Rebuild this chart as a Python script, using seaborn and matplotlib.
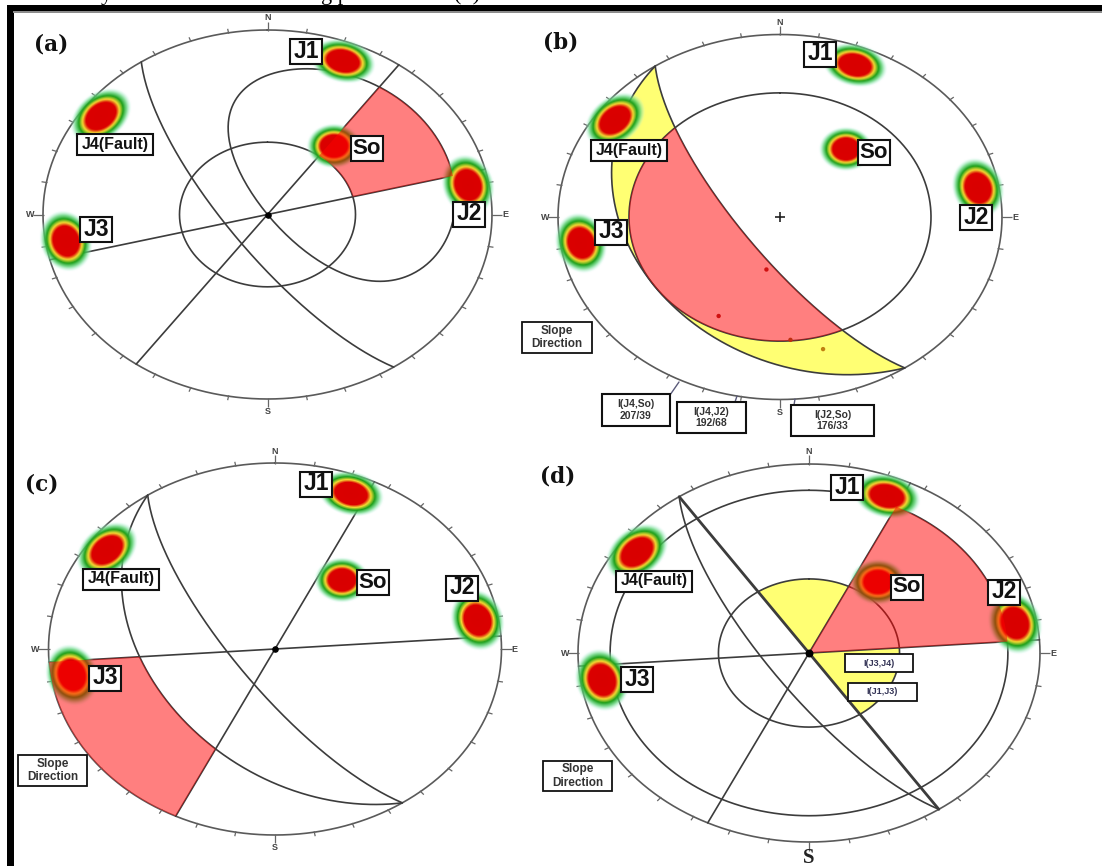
import numpy as np
import matplotlib
matplotlib.use("Agg")
import matplotlib.pyplot as plt
from matplotlib.collections import LineCollection
from matplotlib.patches import Rectangle
import seaborn as sns

# ---- measured data (stereonet values) ----
set_names = ["J1", "J2", "J3", "J4(Fault)", "So"]
set_trend = [22.0, 80.0, 261.0, 305.6, 38.5]
set_plunge = [11.3, 10.4, 10.0, 9.5, 50.6]
set_long = [0.135, 0.150, 0.150, 0.150, 0.110]
set_short = [0.105, 0.105, 0.105, 0.105, 0.110]

slope_dipdir = 235.8
slope_dip = 75.0
b_friction_plunge = 32.5
c_outer_dip = 44.0
cone_small = 0.392
cone_large = 0.861
limit_a = [35.8, 75.8]
limit_c = [206.0, 266.0]
limit_d = [26.0, 86.0]

inter_trend = [207, 192, 176, 165]
inter_plunge = [39, 66, 33, 26]
inter_names = ["I(J4,So)\n207/39", "I(J4,J2)\n192/68", "I(J2,So)\n176/33"]
d_inter_names = ["I(J3,J4)", "I(J1,J3)"]

# ---- layout (pixels) ----
panel_geom = {"a": (267.5, 214.5, 224.5, 184.5), "b": (780, 217, 222, 182.5),
              "c": (275, 649, 226.5, 186), "d": (809, 653, 231, 189)}
panel_tag = {"a": (51, 44), "b": (561, 43), "c": (42, 485), "d": (558, 476)}
label_pos = {
    "a": [(306, 51), (469, 214), (96, 229), (115, 144), (367, 148)],
    "b": [(820, 54), (976, 217), (611, 232), (629, 150), (874, 152)],
    "c": [(316, 484), (462, 588), (105, 678), (121, 579), (373, 582)],
    "d": [(847, 487), (1004, 592), (637, 679), (654, 581), (907, 587)],
}
slope_boxes = [(522, 322, 70, 31), (18, 755, 69, 31), (543, 761, 69, 30)]
inter_boxes = [(602, 394, 68, 32), (677, 402, 69, 31), (791, 405, 83, 31)]
inter_leads = [((670, 395), (679, 382)), ((735, 402), (737, 396)), ((794, 405), (795, 399))]
d_boxes = [(845, 654, 68, 18), (848, 683, 69, 18)]

sns.set_style("white")
fig = plt.figure(figsize=(11.02, 8.66), dpi=100)
ax = fig.add_axes([0, 0, 1, 1])
ax.axis("off")

LINE = "#3c3c3c"
AZ = np.linspace(0, 360, 721)


def ea(plunge):
    return np.sqrt(2) * np.sin(np.radians(90 - np.asarray(plunge, float)) / 2)


def to_px(p, az, r):
    cx, cy, rx, ry = panel_geom[p]
    a = np.radians(az)
    return cx + rx * r * np.sin(a), cy - ry * r * np.cos(a)


def gc_r(az, dip):
    diff = np.radians(np.asarray(az, float) - slope_dipdir)
    return ea(np.degrees(np.arctan(np.tan(np.radians(dip)) * np.cos(diff))))


def env_r(az, dip):
    diff = np.radians(np.asarray(az, float) + 180 - slope_dipdir)
    pl = np.arctan(np.tan(np.radians(dip)) * np.cos(diff))
    return np.sqrt(2) * np.sin(pl / 2)


def curve(x, y, lw=1.2, color=LINE, z=1):
    sns.lineplot(x=x, y=y, sort=False, estimator=None, errorbar=None, color=color,
                 lw=lw, ax=ax, legend=False, zorder=z)


def circle(p, r, lw=1.2):
    x, y = to_px(p, AZ, np.full_like(AZ, r))
    curve(x, y, lw)


def straight(p, az, lw=1.2):
    x0, y0 = to_px(p, az, 1.0)
    x1, y1 = to_px(p, az + 180, 1.0)
    curve(np.array([x0, x1]), np.array([y0, y1]), lw)


def great_circle(p, dip):
    az = np.linspace(slope_dipdir - 90, slope_dipdir + 90, 361)
    x, y = to_px(p, az, gc_r(az, dip))
    curve(x, y)


def envelope(p, dip):
    az = np.linspace(slope_dipdir - 180 - 90, slope_dipdir - 180 + 90, 361)
    x, y = to_px(p, az, env_r(az, dip))
    curve(x, y)


def band(p, az, r_in, r_out, color, z=3):
    x0, y0 = to_px(p, az, r_in)
    x1, y1 = to_px(p, az[::-1], r_out[::-1])
    ax.fill(np.r_[x0, x1], np.r_[y0, y1], color=color, alpha=0.55 if z < 1 else 0.5, lw=0, zorder=z)


STOPS = np.array([0, .55, .68, .82, .95, 1.13])
COLS = np.array([(.85, 0, 0, 1), (.86, 0, 0, 1), (.96, .86, .2, 1), (.1, .62, .1, 1),
                 (.35, .82, .45, .75), (.75, .97, .92, 0)])


def clusters(p):
    cx, cy, rx, ry = panel_geom[p]
    for tr, pl, a, b in zip(set_trend, set_plunge, set_long, set_short):
        px, py = to_px(p, tr, ea(pl))
        s = 45
        xs = np.arange(px - s, px + s, 1.0)
        ys = np.arange(py - s, py + s, 1.0)
        X, Y = np.meshgrid(xs, ys)
        u, v = (X - px) / rx, -(Y - py) / ry
        rad = np.radians(tr)
        t = u * np.cos(rad) - v * np.sin(rad)
        n = u * np.sin(rad) + v * np.cos(rad)
        d = np.sqrt((t / a) ** 2 + (n / b) ** 2)
        img = np.dstack([np.interp(d, STOPS, COLS[:, i]) for i in range(4)])
        ax.imshow(img, extent=(xs[0], xs[-1], ys[-1], ys[0]), origin="upper",
                  aspect="auto", interpolation="bilinear", zorder=2)


def rim(p):
    cx, cy, rx, ry = panel_geom[p]
    x, y = to_px(p, AZ, np.ones_like(AZ))
    curve(x, y, 1.2, "#5a5a5a")
    segs = []
    for az in range(0, 360, 10):
        x0, y0 = to_px(p, az, 0.995)
        ext = 1.045 if az % 90 == 0 else 1.022
        x1, y1 = to_px(p, az, ext)
        segs.append([(x0, y0), (x1, y1)])
    ax.add_collection(LineCollection(segs, colors="#666666", lw=0.9, zorder=1))
    for txt, dx, dy in [("N", 0, -ry - 12), ("E", rx + 13, 0), ("W", -rx - 13, 0)]:
        ax.text(cx + dx, cy + dy, txt, fontsize=6.5, fontweight="bold", color="#444444",
                ha="center", va="center", family="Liberation Sans", zorder=6)
    if p == "d":
        ax.text(cx, cy + ry + 16, "S", fontsize=15, fontweight="bold", color="#222222",
                ha="center", va="center", family="Liberation Serif", zorder=6)
    else:
        ax.text(cx, cy + ry + 13, "S", fontsize=6.5, fontweight="bold", color="#444444",
                ha="center", va="center", family="Liberation Sans", zorder=6)


def boxed(cx, cy, w, h, txt, fs, weight="bold", color="#111111", lw=1.5):
    ax.add_patch(Rectangle((cx - w / 2, cy - h / 2), w, h, fc="white", ec="#111111", lw=lw, zorder=5))
    ax.text(cx, cy, txt, fontsize=fs, fontweight=weight, color=color, ha="center", va="center",
            family="Liberation Sans", zorder=6, linespacing=1.15)


def set_labels(p):
    for name, (x, y) in zip(set_names, label_pos[p]):
        if name.startswith("J4"):
            boxed(x, y, 76, 21, name, 11.5)
        elif name == "So":
            boxed(x, y, 32, 25, name, 16)
        else:
            boxed(x, y, 32, 25, name, 16.5)


# ---- panel a ----
rim("a")
circle("a", cone_small)
for az in limit_a:
    straight("a", az)
great_circle("a", slope_dip)
envelope("a", slope_dip)
clusters("a")
az = np.linspace(limit_a[0], limit_a[1], 80)
band("a", az, np.full_like(az, cone_small), env_r(az, slope_dip), "#ff0000")
x, y = to_px("a", 0, 0.0)
ax.scatter([x], [y], s=14, color="black", zorder=4)

# ---- panel b ----
rim("b")
fr = float(ea(b_friction_plunge))
circle("b", fr)
great_circle("b", slope_dip)
great_circle("b", b_friction_plunge)
clusters("b")
az = np.linspace(slope_dipdir - 90, slope_dipdir + 90, 361)
inner = gc_r(az, slope_dip)
outer = gc_r(az, b_friction_plunge)
keep = inner < fr
band("b", az[keep], inner[keep], np.full(keep.sum(), fr), "#ff0000")
band("b", az, np.maximum(inner, fr), np.maximum(outer, np.maximum(inner, fr)), "#ffff00", z=0.5)
x, y = to_px("b", 0, 0.0)
ax.scatter([x], [y], s=45, marker="+", color="#222222", lw=1.2, zorder=4)
x, y = to_px("b", np.array(inter_trend, float), ea(inter_plunge))
ax.scatter(x, y, s=10, color=["#d01010", "#d01010", "#c03010", "#c08010"], zorder=4, lw=0)
for (bx, by, w, h), txt in zip(inter_boxes, inter_names):
    boxed(bx + w / 2, by + h / 2, w, h, txt, 7.5, color="#333333")
for (p0, p1) in inter_leads:
    curve(np.array([p0[0], p1[0]]), np.array([p0[1], p1[1]]), 1.0, "#5a5a7a")

# ---- panel c ----
rim("c")
great_circle("c", slope_dip)
great_circle("c", c_outer_dip)
straight("c", limit_c[0])
straight("c", limit_c[1])
clusters("c")
az = np.linspace(limit_c[0], limit_c[1], 80)
band("c", az, gc_r(az, c_outer_dip), np.ones_like(az), "#ff0000")
x, y = to_px("c", 0, 0.0)
ax.scatter([x], [y], s=14, color="black", zorder=4)

# ---- panel d ----
rim("d")
circle("d", cone_small)
circle("d", cone_large)
great_circle("d", slope_dip)
straight("d", slope_dipdir - 90, 2.0)
for az0 in limit_d:
    straight("d", az0)
clusters("d")
az = np.linspace(limit_d[0], limit_d[1], 80)
band("d", az, np.zeros_like(az), np.full_like(az, cone_large), "#ff0000")
az = np.linspace(slope_dipdir + 90 - 360, limit_d[0], 80)
band("d", az, np.zeros_like(az), np.full_like(az, cone_small), "#ffff00", z=0.5)
az = np.linspace(limit_d[1], slope_dipdir - 90, 60)
band("d", az, np.zeros_like(az), np.full_like(az, cone_small), "#ffff00", z=0.5)
x, y = to_px("d", 0, 0.0)
ax.scatter([x], [y], s=22, color="black", zorder=4)
for (bx, by, w, h), txt in zip(d_boxes, d_inter_names):
    boxed(bx + w / 2, by + h / 2, w, h, txt, 6.5, color="#333355", lw=1.3)

for p in "abcd":
    set_labels(p)
    tx, ty = panel_tag[p]
    ax.text(tx, ty, f"({p})", fontsize=15.5, fontweight="bold", ha="center", va="center",
            family="DejaVu Serif", color="#111111", zorder=6)

for (bx, by, w, h) in slope_boxes:
    boxed(bx + w / 2, by + h / 2, w, h, "Slope\nDirection", 8.5, color="#333333", lw=1.3)

# ---- page frame and clipped caption ----
ax.add_patch(Rectangle((7, 5), 6.5, 861, fc="black", ec="none", zorder=7))
ax.add_patch(Rectangle((7, 5), 1095, 5.5, fc="black", ec="none", zorder=7))
ax.add_patch(Rectangle((13, 10.5), 1089, 2.5, fc="#8c8c8c", ec="none", zorder=7))
for tx, txt in [(106, "y"), (335, "g p"), (467, "(  )")]:
    ax.text(tx, 0, txt, fontsize=16, family="Liberation Serif", ha="center",
            va="baseline", color="black", zorder=6, clip_on=True)

ax.set_xlim(0, 1102)
ax.set_ylim(866, 0)
fig.savefig("out.png", dpi=100, facecolor="white")
